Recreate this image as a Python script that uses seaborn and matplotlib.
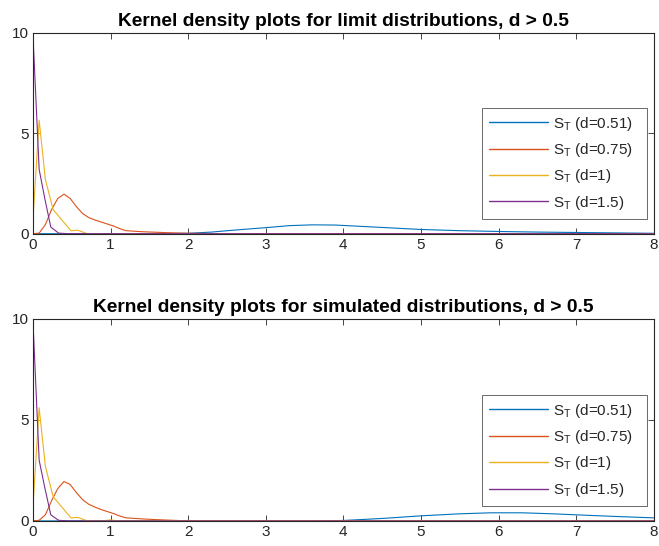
import matplotlib
matplotlib.use("Agg")
import matplotlib.pyplot as plt
import seaborn as sns
import pandas as pd

# ---------------- data ----------------
labels = ["S$_\\mathrm{T}$ (d=0.51)", "S$_\\mathrm{T}$ (d=0.75)",
          "S$_\\mathrm{T}$ (d=1)", "S$_\\mathrm{T}$ (d=1.5)"]
titles = ["Kernel density plots for limit distributions, d > 0.5",
          "Kernel density plots for simulated distributions, d > 0.5"]
x_ticks = [0, 1, 2, 3, 4, 5, 6, 7, 8]
y_ticks = [0, 5, 10]

# top panel (limit distributions)
lim_blue_x = [0, 1.0, 2.0, 2.3, 2.6, 3.0, 3.3, 3.6, 3.9, 4.2, 4.6, 5.0, 5.5, 6.0, 6.5, 7.0, 7.5, 8.0]
lim_blue_y = [0, 0, 0.02, 0.08, 0.18, 0.3, 0.4, 0.44, 0.43, 0.37, 0.29, 0.21, 0.15, 0.11, 0.08, 0.06, 0.04, 0.02]
lim_orange_x = [0, 0.08, 0.16, 0.24, 0.32, 0.40, 0.48, 0.56, 0.64, 0.72, 0.80, 0.88, 0.96, 1.04, 1.12, 1.20, 1.4, 1.6, 1.8, 2.0, 2.5, 8.0]
lim_orange_y = [0, 0.03, 0.45, 1.2, 1.75, 1.97, 1.75, 1.35, 1.0, 0.8, 0.68, 0.58, 0.48, 0.38, 0.25, 0.15, 0.1, 0.07, 0.04, 0.02, 0, 0]
lim_yellow_x = [0, 0.08, 0.16, 0.26, 0.39, 0.49, 0.58, 0.70, 1.0, 8.0]
lim_yellow_y = [0.7, 5.65, 2.7, 1.2, 0.6, 0.15, 0.17, 0.0, 0.0, 0.0]
lim_purple_x = [0, 0.08, 0.155, 0.23, 0.33, 0.45, 8.0]
lim_purple_y = [9.9, 3.2, 1.7, 0.33, 0.03, 0.0, 0.0]

# bottom panel (simulated distributions)
sim_blue_x = [0, 3.5, 4.0, 4.5, 5.0, 5.5, 5.9, 6.3, 6.7, 7.0, 7.5, 8.0]
sim_blue_y = [0, 0, 0.02, 0.12, 0.25, 0.35, 0.4, 0.4, 0.35, 0.3, 0.22, 0.15]
sim_orange_x = [0, 0.08, 0.16, 0.24, 0.32, 0.40, 0.48, 0.56, 0.64, 0.72, 0.80, 0.88, 0.96, 1.04, 1.12, 1.20, 1.4, 1.6, 1.8, 2.0, 8.0]
sim_orange_y = [0, 0.03, 0.3, 1.0, 1.6, 1.95, 1.8, 1.4, 1.05, 0.82, 0.68, 0.56, 0.46, 0.36, 0.24, 0.15, 0.1, 0.06, 0.03, 0.0, 0]
sim_yellow_x = [0, 0.08, 0.16, 0.26, 0.39, 0.49, 0.58, 0.70, 0.9, 1.0, 1.1, 8.0]
sim_yellow_y = [0.7, 5.6, 2.7, 1.2, 0.6, 0.15, 0.17, 0.0, 0.0, 0.05, 0.0, 0.0]
sim_purple_x = [0, 0.08, 0.155, 0.23, 0.33, 0.45, 8.0]
sim_purple_y = [9.9, 3.0, 1.6, 0.3, 0.03, 0.0, 0.0]

colors = ["#0072BD", "#D95319", "#EDB120", "#7E2F8E"]

panels = [
    [(lim_blue_x, lim_blue_y), (lim_orange_x, lim_orange_y),
     (lim_yellow_x, lim_yellow_y), (lim_purple_x, lim_purple_y)],
    [(sim_blue_x, sim_blue_y), (sim_orange_x, sim_orange_y),
     (sim_yellow_x, sim_yellow_y), (sim_purple_x, sim_purple_y)],
]

# ---------------- style ----------------
sns.set_theme(style="white")
plt.rcParams["font.family"] = ["Liberation Sans", "DejaVu Sans"]
plt.rcParams["mathtext.fontset"] = "custom"
plt.rcParams["mathtext.rm"] = "Liberation Sans"
plt.rcParams["mathtext.it"] = "Liberation Sans:italic"
plt.rcParams["mathtext.bf"] = "Liberation Sans:bold"

fig = plt.figure(figsize=(6.59, 5.46), dpi=100)
ax_rects = [[0.050, 0.572, 0.942, 0.368], [0.050, 0.046, 0.942, 0.370]]
axc = "#262626"

for rect, series, title in zip(ax_rects, panels, titles):
    ax = fig.add_axes(rect)
    frames = []
    for lab, (xs, ys) in zip(labels, series):
        frames.append(pd.DataFrame({"x": xs, "y": ys, "series": lab}))
    df = pd.concat(frames, ignore_index=True)
    sns.lineplot(data=df, x="x", y="y", hue="series", hue_order=labels,
                 palette=colors, estimator=None, sort=False,
                 linewidth=0.8, ax=ax)
    ax.set_xlim(0, 8)
    ax.set_ylim(0, 10)
    ax.set_xticks(x_ticks)
    ax.set_yticks(y_ticks)
    ax.set_xlabel("")
    ax.set_ylabel("")
    ax.set_title(title, fontsize=13.8, fontweight="bold", pad=5, color="black")
    for sp in ax.spines.values():
        sp.set_visible(True)
        sp.set_color(axc)
        sp.set_linewidth(0.8)
    ax.tick_params(axis="both", which="both", direction="in", length=4,
                   width=0.6, color=axc, labelsize=11, labelcolor=axc,
                   top=True, right=True, bottom=True, left=True, pad=3)
    leg = ax.legend(loc="lower left", bbox_to_anchor=(0.723, 0.075, 0.266, 0.55),
                    mode="expand",
                    fontsize=11, frameon=True, fancybox=False,
                    edgecolor=axc, handlelength=3.9, labelspacing=0.55,
                    borderpad=0.45, handletextpad=0.3, borderaxespad=0)
    leg.get_frame().set_linewidth(0.6)
    for h in leg.get_lines():
        h.set_linewidth(1.0)

fig.savefig("out.png", dpi=100)
